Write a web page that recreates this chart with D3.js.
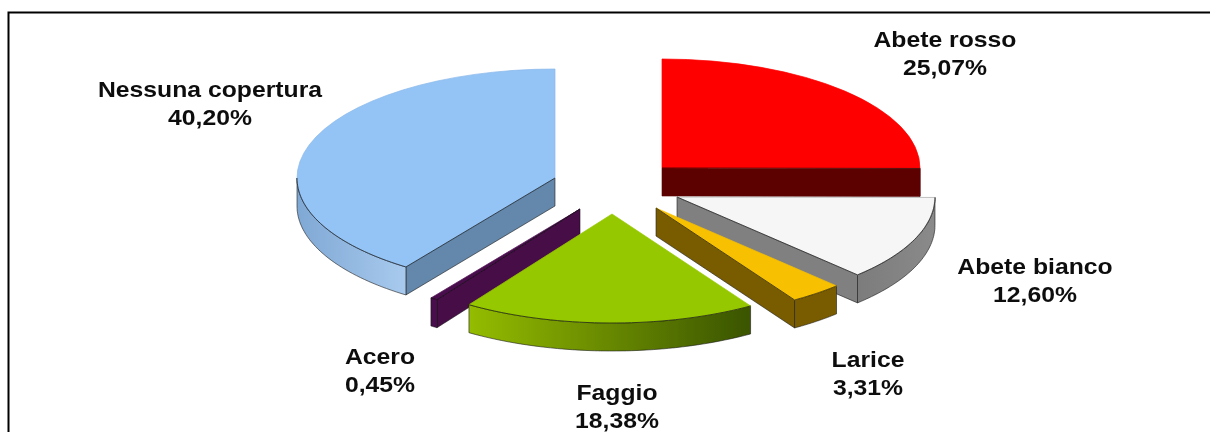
<!DOCTYPE html>
<html><head><meta charset="utf-8">
<script src="https://cdn.jsdelivr.net/npm/d3@7"></script>
<style>html,body{margin:0;background:#fff}svg{display:block}
text{font-family:"Liberation Sans",Arial,sans-serif;font-weight:bold;font-size:22px;fill:#111;text-anchor:middle}</style>
</head><body><svg id="c" width="1210" height="432"></svg>
<script>
const categories = ["Abete rosso","Abete bianco","Larice","Faggio","Acero","Nessuna copertura"];
const values = [25.07,12.60,3.31,18.38,0.45,40.20];
const topColors = ["#ff0000","#f6f6f6","#f7c000","#96c800","#4a0a4e","#94c4f6"];
const topStrokes = ["#ff0000","#a8a8a8","#f7c000","#96c800","#4a0a4e","#8ab8ea"];
const wallStart = ["#5c0000","#7c7c7c","#7a5c00","#94bc00","#4a0a4e","#7fa8d4"];
const wallEnd = ["#5c0000","#8a8a8a","#7a5c00","#3a5400","#4a0a4e","#a8caee"];
const edgeColors = ["#5c0000","#808080","#7a5c00","#3a5400","#470847","#6488ab"];

const layout = {
  cx:612, cy:187, rx:258, ry:109, depth:28,
  explode:[[50,-19],[65,10],[44,21],[0,27],[-32,22],[-57,-9]],
  labels:[[945,47],[1035,274],[868,367],[617,400],[380,364],[210,97]],
  lineGap:28, textStretch:1.125
};
const svg = d3.select("#c");
const defs = svg.append("defs");
const blur = defs.append("filter").attr("id","soft").attr("x","-5%").attr("y","-5%").attr("width","110%").attr("height","110%");
blur.append("feGaussianBlur").attr("stdDeviation",0.45);

const root = svg.append("g").attr("filter","url(#soft)");
root.append("path").attr("d","M8.5,432V12.5H1210").attr("fill","none").attr("stroke","#000").attr("stroke-width",2);

const pie = d3.pie().sort(null).value(d=>d);
const arcs = pie(values).map((a,i)=>({...a,i,dx:layout.explode[i][0],dy:layout.explode[i][1]}));
const arc = d3.arc().innerRadius(0).outerRadius(layout.rx);
const yScale = layout.ry/layout.rx;
const px = t=>layout.rx*Math.sin(t), py = t=>-layout.ry*Math.cos(t);
const line = d3.line();
const inkEdge = "#1c1c1c";

const order = arcs.slice().sort((a,b)=>a.dy-b.dy);
order.forEach(a=>{
  const g = root.append("g").attr("transform",`translate(${layout.cx+a.dx},${layout.cy+a.dy})`);
  const t0 = Math.max(a.startAngle,Math.PI/2), t1 = Math.min(a.endAngle,3*Math.PI/2);
  const ts = d3.range(0,41).map(k=>t0+(t1-t0)*k/40);
  const edges = [];
  const radial = t=>{
    const pts=[[0,0],[px(t),py(t)],[px(t),py(t)+layout.depth],[0,layout.depth]];
    const fill=edgeColors[a.i];
    g.append("path").attr("d",line(pts)+"Z").attr("fill",fill)
      .attr("stroke",a.i===0?fill:inkEdge).attr("stroke-width",0.6);
    edges.push([[0,0],[px(t),py(t)]]);
  };
  if(a.startAngle>Math.PI) radial(a.startAngle);
  if(a.endAngle<Math.PI) radial(a.endAngle);
  if(t1>t0){
    const id="w"+a.i, xs=[px(t0),px(t1)];
    const lg=defs.append("linearGradient").attr("id",id).attr("gradientUnits","userSpaceOnUse")
      .attr("x1",d3.min(xs)).attr("x2",d3.max(xs)).attr("y1",0).attr("y2",0);
    lg.append("stop").attr("offset",0).attr("stop-color",wallStart[a.i]);
    lg.append("stop").attr("offset",1).attr("stop-color",wallEnd[a.i]);
    const upper=ts.map(t=>[px(t),py(t)]), lower=ts.map(t=>[px(t),py(t)+layout.depth]).reverse();
    g.append("path").attr("d",line(upper.concat(lower))+"Z").attr("fill",`url(#${id})`)
      .attr("stroke",a.i===0?wallEnd[0]:inkEdge).attr("stroke-width",0.6);
    if(a.i!==0) edges.push(upper);
  }
  g.append("path").attr("transform",`scale(1,${yScale})`).attr("d",arc(a))
    .attr("fill",topColors[a.i]).attr("stroke",topStrokes[a.i]).attr("stroke-width",0.7)
    .attr("vector-effect","non-scaling-stroke");
  edges.forEach(e=>g.append("path").attr("d",line(e)).attr("fill","none").attr("stroke","#111").attr("stroke-width",0.7));
});

const fmt = d3.formatLocale({decimal:",",thousands:".",grouping:[3],currency:["","€"]}).format(".2f");
arcs.forEach(a=>{
  const [x,y]=layout.labels[a.i];
  const t=root.append("text").attr("transform",`translate(${x},${y}) scale(${layout.textStretch},1)`);
  t.append("tspan").attr("x",0).text(categories[a.i]);
  t.append("tspan").attr("x",0).attr("dy",layout.lineGap).text(fmt(values[a.i])+"%");
});
</script></body></html>
